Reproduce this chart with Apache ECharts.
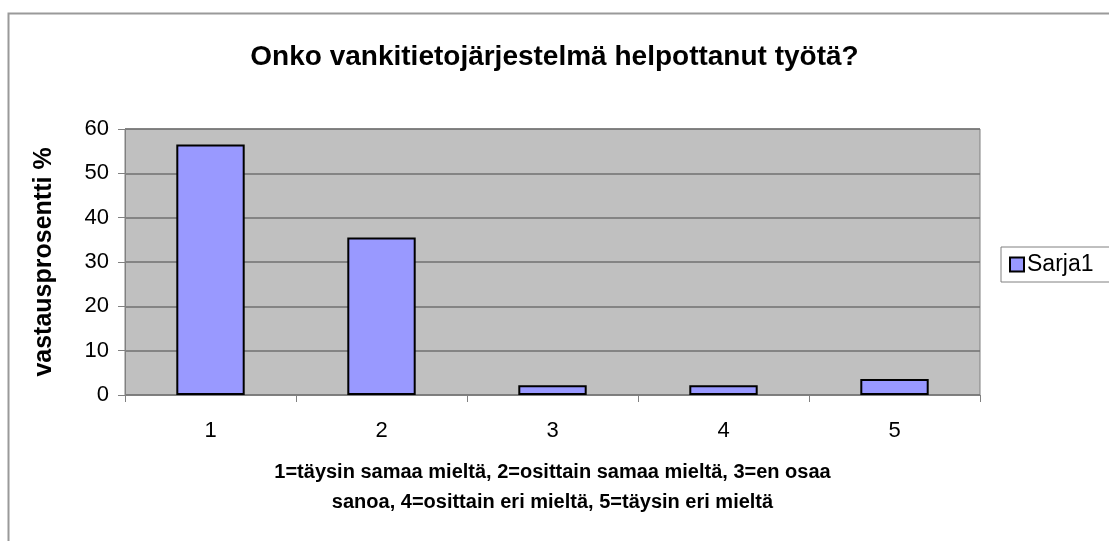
<!DOCTYPE html>
<html>
<head>
<meta charset="utf-8">
<script src="https://cdn.jsdelivr.net/npm/echarts@6/dist/echarts.min.js"></script>
<style>
  html, body { margin: 0; padding: 0; background: #fff; }
  #chart { width: 1109px; height: 541px; }
</style>
</head>
<body>
<div id="chart"></div>
<script>
const categories = ['1', '2', '3', '4', '5'];
const sarja1 = [56.5, 35.5, 2.2, 2.2, 3.6];
const yTicks = [0, 10, 20, 30, 40, 50, 60];

const font = '"Liberation Sans", Arial, sans-serif';

const chart = echarts.init(document.getElementById('chart'));
chart.setOption({
  animation: false,
  backgroundColor: '#fff',
  textStyle: { fontFamily: font },
  title: {
    text: 'Onko vankitietojärjestelmä helpottanut työtä?',
    left: 'center',
    top: 38,
    textStyle: { fontFamily: font, fontSize: 28, fontWeight: 'bold', color: '#000' },
  },
  // outer chart frame
  graphic: [
    {
      type: 'rect',
      shape: { x: 8.5, y: 13.5, width: 1200, height: 600 },
      style: { fill: 'none', stroke: '#9a9a9a', lineWidth: 2 },
      silent: true,
    },
  ],
  legend: {
    data: ['Sarja1'],
    left: 1001,
    top: 247,
    orient: 'vertical',
    icon: 'rect',
    itemWidth: 14,
    itemHeight: 14,
    itemGap: 4,
    padding: [6, 20, 6, 8],
    backgroundColor: '#fff',
    borderColor: '#808080',
    borderWidth: 1,
    borderRadius: 0,
    textStyle: { fontFamily: font, fontSize: 23, color: '#000', padding: [0, 0, 0, -2] },
    itemStyle: { borderColor: '#000', borderWidth: 2 },
  },
  grid: {
    left: 125,
    right: 129,
    top: 129,
    bottom: 146,
    show: true,
    backgroundColor: '#c0c0c0',
    borderColor: '#808080',
    borderWidth: 1,
  },
  xAxis: {
    type: 'category',
    data: categories,
    name: '1=täysin samaa mieltä, 2=osittain samaa mieltä, 3=en osaa\nsanoa, 4=osittain eri mieltä, 5=täysin eri mieltä',
    nameLocation: 'middle',
    nameGap: 62,
    nameTextStyle: { fontFamily: font, fontSize: 20, fontWeight: 'bold', color: '#000', lineHeight: 30 },
    axisLine: { lineStyle: { color: '#808080', width: 1 } },
    axisTick: { show: true, alignWithLabel: false, length: 7, lineStyle: { color: '#808080' } },
    axisLabel: { fontFamily: font, fontSize: 22, color: '#000', margin: 25 },
  },
  yAxis: {
    type: 'value',
    min: yTicks[0],
    max: yTicks[yTicks.length - 1],
    interval: 10,
    name: 'vastausprosentti %',
    nameLocation: 'middle',
    nameGap: 68,
    nameTextStyle: { fontFamily: font, fontSize: 25, fontWeight: 'bold', color: '#000' },
    axisLine: { show: true, lineStyle: { color: '#808080', width: 1 } },
    axisTick: { show: true, length: 7, lineStyle: { color: '#808080' } },
    axisLabel: { fontFamily: font, fontSize: 22, color: '#000', margin: 16 },
    splitLine: { show: true, lineStyle: { color: '#707070', width: 1.5 } },
  },
  series: [
    {
      name: 'Sarja1',
      type: 'bar',
      data: sarja1,
      barWidth: '40%',
      itemStyle: { color: '#9999ff', borderColor: '#000', borderWidth: 2 },
    },
  ],
});
</script>
</body>
</html>
